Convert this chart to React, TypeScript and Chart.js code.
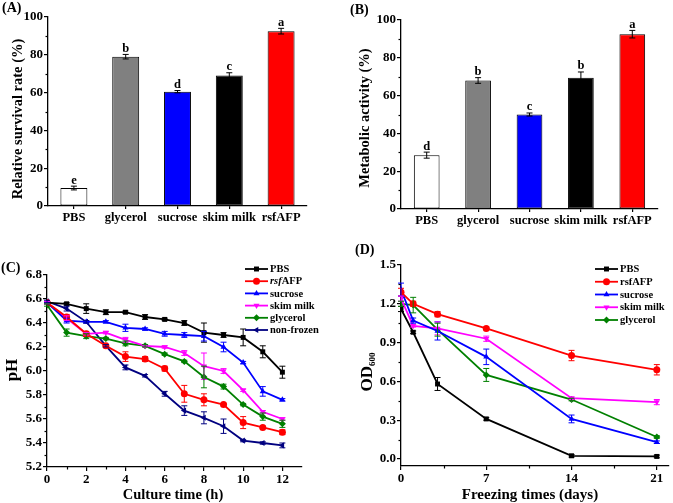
import React, { useEffect, useRef } from 'react';
import { Chart, registerables } from 'chart.js';
Chart.register(...registerables);

const SERIF = "'Liberation Serif', 'Times New Roman', serif";

// ---------- Panel A & B ----------
const barCategories = ['PBS', 'glycerol', 'sucrose', 'skim milk', 'rsfAFP'];
const barFill = ['#ffffff', '#808080', '#0000ff', '#000000', '#ff0000'];
const survivalRate = [9.5, 79, 60.5, 69, 92.5];
const survivalErr = [1, 1.2, 0.6, 1.5, 1.5];
const survivalLetters = ['e', 'b', 'd', 'c', 'a'];
const metabolicActivity = [28.5, 68, 50, 69.5, 92.5];
const metabolicErr = [1.6, 1.5, 0.8, 3, 2];
const metabolicLetters = ['d', 'b', 'c', 'b', 'a'];
const percentTicks = [0, 20, 40, 60, 80, 100];

// ---------- Panel C ----------
const cultureHours = [0, 1, 2, 3, 4, 5, 6, 7, 8, 9, 10, 11, 12];
const phPBS = [6.57, 6.56, 6.52, 6.49, 6.49, 6.45, 6.43, 6.40, 6.32, 6.30, 6.28, 6.16, 5.99];
const phPBSErr = [0.01, 0.01, 0.04, 0.02, 0.01, 0.02, 0.01, 0.02, 0.08, 0.02, 0.07, 0.05, 0.05];
const phRsfAFP = [6.57, 6.45, 6.31, 6.21, 6.12, 6.10, 6.02, 5.81, 5.76, 5.72, 5.57, 5.53, 5.49];
const phRsfAFPErr = [0.01, 0.02, 0.02, 0.01, 0.04, 0.02, 0.02, 0.07, 0.05, 0.01, 0.05, 0.01, 0.02];
const phSucrose = [6.57, 6.42, 6.41, 6.41, 6.36, 6.35, 6.31, 6.30, 6.29, 6.20, 6.07, 5.83, 5.76];
const phSucroseErr = [0.01, 0.02, 0.01, 0.01, 0.03, 0.01, 0.02, 0.02, 0.04, 0.04, 0.01, 0.04, 0.01];
const phSkimMilk = [6.57, 6.44, 6.31, 6.32, 6.26, 6.21, 6.20, 6.15, 6.04, 6.00, 5.84, 5.66, 5.60];
const phSkimMilkErr = [0.01, 0.02, 0.01, 0.01, 0.02, 0.01, 0.01, 0.02, 0.11, 0.02, 0.01, 0.01, 0.01];
const phGlycerol = [6.55, 6.32, 6.29, 6.27, 6.23, 6.21, 6.14, 6.08, 5.95, 5.87, 5.72, 5.62, 5.56];
const phGlycerolErr = [0.01, 0.03, 0.02, 0.01, 0.02, 0.01, 0.01, 0.01, 0.09, 0.02, 0.01, 0.03, 0.03];
const phNonFrozen = [6.58, 6.52, 6.41, 6.21, 6.03, 5.96, 5.81, 5.67, 5.61, 5.54, 5.42, 5.40, 5.38];
const phNonFrozenErr = [0.01, 0.02, 0.01, 0.01, 0.02, 0.01, 0.02, 0.04, 0.05, 0.06, 0.01, 0.01, 0.02];
const phTicks = [5.2, 5.4, 5.6, 5.8, 6.0, 6.2, 6.4, 6.6, 6.8];
const hourTicks = [0, 2, 4, 6, 8, 10, 12];

// ---------- Panel D ----------
const freezingDays = [0, 1, 3, 7, 14, 21];
const odPBS = [1.16, 0.98, 0.58, 0.31, 0.025, 0.02];
const odPBSErr = [0.02, 0.01, 0.05, 0.01, 0.01, 0.01];
const odRsfAFP = [1.29, 1.20, 1.12, 1.01, 0.80, 0.69];
const odRsfAFPErr = [0.03, 0.02, 0.02, 0.01, 0.04, 0.04];
const odSucrose = [1.31, 1.07, 0.99, 0.79, 0.31, 0.13];
const odSucroseErr = [0.05, 0.02, 0.07, 0.06, 0.03, 0.01];
const odSkimMilk = [1.24, 1.03, 1.01, 0.93, 0.47, 0.44];
const odSkimMilkErr = [0.02, 0.01, 0.05, 0.02, 0.01, 0.02];
const odGlycerol = [1.20, 1.19, 1.00, 0.65, 0.46, 0.17];
const odGlycerolErr = [0.02, 0.06, 0.05, 0.05, 0.01, 0.01];
const odTicks = [0, 0.3, 0.6, 0.9, 1.2, 1.5];
const dayTicks = [0, 7, 14, 21];

type Part = { text: string; size: number; italic?: boolean; dy?: number };

function drawRich(ctx: CanvasRenderingContext2D, parts: Part[], cx: number, cy: number, rotate: boolean, align: 'center' | 'left') {
  ctx.save();
  ctx.translate(cx, cy);
  if (rotate) ctx.rotate(-Math.PI / 2);
  ctx.textBaseline = 'middle';
  ctx.textAlign = 'left';
  ctx.fillStyle = '#000';
  const fonts = parts.map((p) => `${p.italic ? 'italic ' : ''}bold ${p.size}px ${SERIF}`);
  const widths = parts.map((p, i) => { ctx.font = fonts[i]; return ctx.measureText(p.text).width; });
  const total = widths.reduce((a, b) => a + b, 0);
  let x = align === 'center' ? -total / 2 : 0;
  parts.forEach((p, i) => {
    ctx.font = fonts[i];
    ctx.fillText(p.text, x, p.dy || 0);
    x += widths[i];
  });
  ctx.restore();
}

function drawMarker(ctx: CanvasRenderingContext2D, style: string, rot: number, x: number, y: number, r: number, color: string) {
  ctx.save();
  ctx.fillStyle = color;
  ctx.translate(x, y);
  ctx.rotate((rot * Math.PI) / 180);
  ctx.beginPath();
  if (style === 'rect') {
    const s = r * Math.SQRT1_2;
    ctx.rect(-s, -s, 2 * s, 2 * s);
  } else if (style === 'circle') {
    ctx.arc(0, 0, r, 0, Math.PI * 2);
  } else if (style === 'triangle') {
    ctx.moveTo(0, -r);
    ctx.lineTo(r * 0.866, r * 0.5);
    ctx.lineTo(-r * 0.866, r * 0.5);
    ctx.closePath();
  } else {
    ctx.moveTo(0, -r);
    ctx.lineTo(r, 0);
    ctx.lineTo(0, r);
    ctx.lineTo(-r, 0);
    ctx.closePath();
  }
  ctx.fill();
  ctx.restore();
}

type LegendItem = { parts: Part[]; color: string; style: string; rot: number };
type Overlay = {
  errors: number[][];
  errColors: string[];
  cap: number;
  letters?: string[];
  minorX?: boolean;
  minorY?: boolean;
  titles: { parts: Part[]; x: number; y: number; rotate: boolean }[];
  legend?: { x: number; y: number; gap: number; lineLen: number; items: LegendItem[] };
};

function overlayPlugin(o: Overlay) {
  return {
    id: 'overlay',
    afterDatasetsDraw(chart: any) {
      const ctx: CanvasRenderingContext2D = chart.ctx;
      const ys = chart.scales.y;
      o.errors.forEach((errs, di) => {
        const meta = chart.getDatasetMeta(di);
        const data = chart.data.datasets[di].data;
        ctx.save();
        ctx.strokeStyle = o.errColors[di];
        ctx.lineWidth = 1;
        meta.data.forEach((el: any, j: number) => {
          const d = data[j];
          const v = typeof d === 'number' ? d : d.y;
          const e = errs[j];
          const x = el.x;
          const y1 = ys.getPixelForValue(v + e);
          const y2 = ys.getPixelForValue(v - e);
          ctx.beginPath();
          ctx.moveTo(x, y1); ctx.lineTo(x, y2);
          ctx.moveTo(x - o.cap, y1); ctx.lineTo(x + o.cap, y1);
          ctx.moveTo(x - o.cap, y2); ctx.lineTo(x + o.cap, y2);
          ctx.stroke();
        });
        ctx.restore();
        if (o.letters) {
          ctx.save();
          ctx.fillStyle = '#000';
          ctx.font = `bold 12.5px ${SERIF}`;
          ctx.textAlign = 'center';
          ctx.textBaseline = 'alphabetic';
          meta.data.forEach((el: any, j: number) => {
            const v = data[j] as number;
            const yTop = ys.getPixelForValue(v + errs[j]);
            ctx.fillText(o.letters![j], el.x, yTop - 2.5);
          });
          ctx.restore();
        }
      });
    },
    afterDraw(chart: any) {
      const ctx: CanvasRenderingContext2D = chart.ctx;
      const area = chart.chartArea;
      ctx.save();
      ctx.strokeStyle = '#000';
      ctx.lineWidth = 1.2;
      if (o.minorX) {
        const xs = chart.scales.x;
        const vals = xs.ticks.map((t: any) => t.value);
        for (let i = 0; i < vals.length - 1; i++) {
          const px = Math.round(xs.getPixelForValue((vals[i] + vals[i + 1]) / 2)) + 0.5;
          ctx.beginPath(); ctx.moveTo(px, area.bottom); ctx.lineTo(px, area.bottom + 2.5); ctx.stroke();
        }
      }
      if (o.minorY) {
        const ys = chart.scales.y;
        const vals = ys.ticks.map((t: any) => t.value);
        for (let i = 0; i < vals.length - 1; i++) {
          const py = Math.round(ys.getPixelForValue((vals[i] + vals[i + 1]) / 2)) + 0.5;
          ctx.beginPath(); ctx.moveTo(area.left, py); ctx.lineTo(area.left - 2.5, py); ctx.stroke();
        }
      }
      ctx.restore();
      o.titles.forEach((t) => drawRich(ctx, t.parts, t.x, t.y, t.rotate, 'center'));
      if (o.legend) {
        const L = o.legend;
        L.items.forEach((it, i) => {
          const y = L.y + i * L.gap;
          ctx.save();
          ctx.strokeStyle = it.color;
          ctx.lineWidth = 1.8;
          ctx.beginPath(); ctx.moveTo(L.x, y); ctx.lineTo(L.x + L.lineLen, y); ctx.stroke();
          ctx.restore();
          drawMarker(ctx, it.style, it.rot, L.x + L.lineLen / 2, y, 3.5, it.color);
          drawRich(ctx, it.parts, L.x + L.lineLen + 2, y + 0.5, false, 'left');
        });
      }
    },
  };
}

function axis(size: number, extra: any) {
  return {
    border: { display: true, color: '#000', width: 1.3 },
    grid: { display: true, drawOnChartArea: false, drawTicks: true, tickLength: 4, color: '#000', lineWidth: 1.2 },
    ...extra,
    ticks: { color: '#000', font: { family: SERIF, weight: 'bold', size }, padding: 1, maxRotation: 0, minRotation: 0, autoSkip: false, ...(extra.ticks || {}) },
  };
}

type Geo = { w: number; h: number; pad: { left: number; top: number; right: number; bottom: number }; yW: number; xH: number };

function barConfig(values: number[], errs: number[], letters: string[], yTitle: string, geo: Geo, barPct: number, titleX: number, titleY: number) {
  return {
    type: 'bar',
    data: {
      labels: barCategories,
      datasets: [{
        data: values,
        backgroundColor: barFill,
        borderColor: '#000',
        borderWidth: 1,
        borderSkipped: false,
        barPercentage: barPct,
        categoryPercentage: 1,
      }],
    },
    options: {
      responsive: false,
      animation: false,
      layout: { padding: geo.pad },
      plugins: { legend: { display: false }, tooltip: { enabled: false } },
      scales: {
        x: axis(12.5, { grid: { display: true, drawOnChartArea: false, drawTicks: true, tickLength: 3, color: '#000', lineWidth: 1.2, offset: false }, afterFit: (s: any) => { s.height = geo.xH; } }),
        y: axis(13, {
          min: 0, max: 100,
          afterBuildTicks: (s: any) => { s.ticks = percentTicks.map((v) => ({ value: v })); },
          afterFit: (s: any) => { s.width = geo.yW; },
        }),
      },
    },
    plugins: [overlayPlugin({
      errors: [errs], errColors: ['#000'], cap: 3, letters, minorY: true,
      titles: [{ parts: [{ text: yTitle, size: 14.5 }], x: titleX, y: titleY, rotate: true }],
    })],
  };
}

function lineDs(label: string, xs: number[], ys: number[], color: string, style: string, rot: number) {
  return {
    label,
    data: xs.map((x, i) => ({ x, y: ys[i] })),
    borderColor: color,
    backgroundColor: color,
    borderWidth: 1.8,
    pointStyle: style,
    pointRotation: rot,
    pointRadius: 3.5,
    pointBorderWidth: 0,
    tension: 0,
  };
}

function phConfig(geo: Geo) {
  const series = [
    { name: 'PBS', ys: phPBS, err: phPBSErr, color: '#000000', style: 'rect', rot: 0, parts: [{ text: 'PBS', size: 10.5 }] },
    { name: 'rsfAFP', ys: phRsfAFP, err: phRsfAFPErr, color: '#ff0000', style: 'circle', rot: 0, parts: [{ text: 'rsf', size: 10.5, italic: true }, { text: 'AFP', size: 10.5 }] },
    { name: 'sucrose', ys: phSucrose, err: phSucroseErr, color: '#0000ff', style: 'triangle', rot: 0, parts: [{ text: 'sucrose', size: 10.5 }] },
    { name: 'skim milk', ys: phSkimMilk, err: phSkimMilkErr, color: '#ff00ff', style: 'triangle', rot: 180, parts: [{ text: 'skim milk', size: 10.5 }] },
    { name: 'glycerol', ys: phGlycerol, err: phGlycerolErr, color: '#008000', style: 'rectRot', rot: 0, parts: [{ text: 'glycerol', size: 10.5 }] },
    { name: 'non-frozen', ys: phNonFrozen, err: phNonFrozenErr, color: '#000080', style: 'triangle', rot: 270, parts: [{ text: 'non-frozen', size: 10.5 }] },
  ];
  return {
    type: 'line',
    data: { datasets: series.map((s) => lineDs(s.name, cultureHours, s.ys, s.color, s.style, s.rot)) },
    options: {
      responsive: false,
      animation: false,
      layout: { padding: geo.pad },
      plugins: { legend: { display: false }, tooltip: { enabled: false } },
      scales: {
        x: axis(13, {
          type: 'linear', min: 0, max: 13,
          afterBuildTicks: (s: any) => { s.ticks = hourTicks.map((v) => ({ value: v })); },
          afterFit: (s: any) => { s.height = geo.xH; },
        }),
        y: axis(13, {
          min: 5.2, max: 6.8,
          afterBuildTicks: (s: any) => { s.ticks = phTicks.map((v) => ({ value: v })); },
          ticks: { callback: (v: any) => Number(v).toFixed(1) },
          afterFit: (s: any) => { s.width = geo.yW; },
        }),
      },
    },
    plugins: [overlayPlugin({
      errors: series.map((s) => s.err), errColors: series.map((s) => s.color), cap: 3, minorX: true, minorY: true,
      titles: [
        { parts: [{ text: 'pH', size: 17 }], x: 13, y: 120, rotate: true },
        { parts: [{ text: 'Culture time (h)', size: 14.5 }], x: 173, y: 245, rotate: false },
      ],
      legend: { x: 245, y: 19, gap: 12.2, lineLen: 23, items: series.map((s) => ({ parts: s.parts, color: s.color, style: s.style, rot: s.rot })) },
    })],
  };
}

function odConfig(geo: Geo) {
  const series = [
    { name: 'PBS', ys: odPBS, err: odPBSErr, color: '#000000', style: 'rect', rot: 0 },
    { name: 'rsfAFP', ys: odRsfAFP, err: odRsfAFPErr, color: '#ff0000', style: 'circle', rot: 0 },
    { name: 'sucrose', ys: odSucrose, err: odSucroseErr, color: '#0000ff', style: 'triangle', rot: 0 },
    { name: 'skim milk', ys: odSkimMilk, err: odSkimMilkErr, color: '#ff00ff', style: 'triangle', rot: 180 },
    { name: 'glycerol', ys: odGlycerol, err: odGlycerolErr, color: '#008000', style: 'rectRot', rot: 0 },
  ];
  return {
    type: 'line',
    data: { datasets: series.map((s) => lineDs(s.name, freezingDays, s.ys, s.color, s.style, s.rot)) },
    options: {
      responsive: false,
      animation: false,
      layout: { padding: geo.pad },
      plugins: { legend: { display: false }, tooltip: { enabled: false } },
      scales: {
        x: axis(13, {
          type: 'linear', min: 0, max: 22,
          afterBuildTicks: (s: any) => { s.ticks = dayTicks.map((v) => ({ value: v })); },
          afterFit: (s: any) => { s.height = geo.xH; },
        }),
        y: axis(13, {
          min: -0.054, max: 1.5,
          afterBuildTicks: (s: any) => { s.ticks = odTicks.map((v) => ({ value: v })); },
          ticks: { callback: (v: any) => Number(v).toFixed(1) },
          afterFit: (s: any) => { s.width = geo.yW; },
        }),
      },
    },
    plugins: [overlayPlugin({
      errors: series.map((s) => s.err), errColors: series.map((s) => s.color), cap: 3, minorX: true, minorY: true,
      titles: [
        { parts: [{ text: 'OD', size: 17 }, { text: '600', size: 9, dy: 5 }], x: 32, y: 122, rotate: true },
        { parts: [{ text: 'Freezing times (days)', size: 15 }], x: 194, y: 245, rotate: false },
      ],
      legend: { x: 259, y: 19, gap: 12.75, lineLen: 23, items: series.map((s) => ({ parts: [{ text: s.name, size: 10.5 }], color: s.color, style: s.style, rot: s.rot })) },
    })],
  };
}

function Panel({ left, top, w, h, make }: { left: number; top: number; w: number; h: number; make: () => any }) {
  const ref = useRef<HTMLCanvasElement>(null);
  useEffect(() => {
    if (!ref.current) return;
    const chart = new Chart(ref.current, make());
    return () => chart.destroy();
  }, []);
  return (
    <canvas ref={ref} width={w} height={h} style={{ position: 'absolute', left, top, width: w, height: h }} />
  );
}

const labelStyle: React.CSSProperties = {
  position: 'absolute', fontFamily: SERIF, fontWeight: 'bold', fontSize: 14, lineHeight: '14px', color: '#000',
};

export default function App() {
  const geoA: Geo = { w: 336, h: 250, pad: { left: 0, top: 17, right: 29, bottom: 0 }, yW: 48, xH: 44 };
  const geoB: Geo = { w: 337, h: 250, pad: { left: 0, top: 20, right: 15, bottom: 0 }, yW: 65, xH: 41 };
  const geoC: Geo = { w: 336, h: 253, pad: { left: 0, top: 25, right: 34, bottom: 0 }, yW: 47, xH: 36 };
  const geoD: Geo = { w: 337, h: 253, pad: { left: 0, top: 15, right: 2, bottom: 0 }, yW: 65, xH: 37 };
  return (
    <div style={{ position: 'fixed', left: 0, top: 0, width: 673, height: 503, background: '#fff', overflow: 'hidden' }}>
      <Panel left={0} top={0} w={geoA.w} h={geoA.h} make={() => barConfig(survivalRate, survivalErr, survivalLetters, 'Relative survival rate (%)', geoA, 0.52, 18, 119)} />
      <Panel left={336} top={0} w={geoB.w} h={geoB.h} make={() => barConfig(metabolicActivity, metabolicErr, metabolicLetters, 'Metabolic activity (%)', geoB, 0.5, 29, 118)} />
      <Panel left={0} top={250} w={geoC.w} h={geoC.h} make={() => phConfig(geoC)} />
      <Panel left={336} top={250} w={geoD.w} h={geoD.h} make={() => odConfig(geoD)} />
      <div style={{ ...labelStyle, left: 2, top: 1 }}>(A)</div>
      <div style={{ ...labelStyle, left: 350, top: 3 }}>(B)</div>
      <div style={{ ...labelStyle, left: 1, top: 261 }}>(C)</div>
      <div style={{ ...labelStyle, left: 355, top: 243 }}>(D)</div>
    </div>
  );
}
